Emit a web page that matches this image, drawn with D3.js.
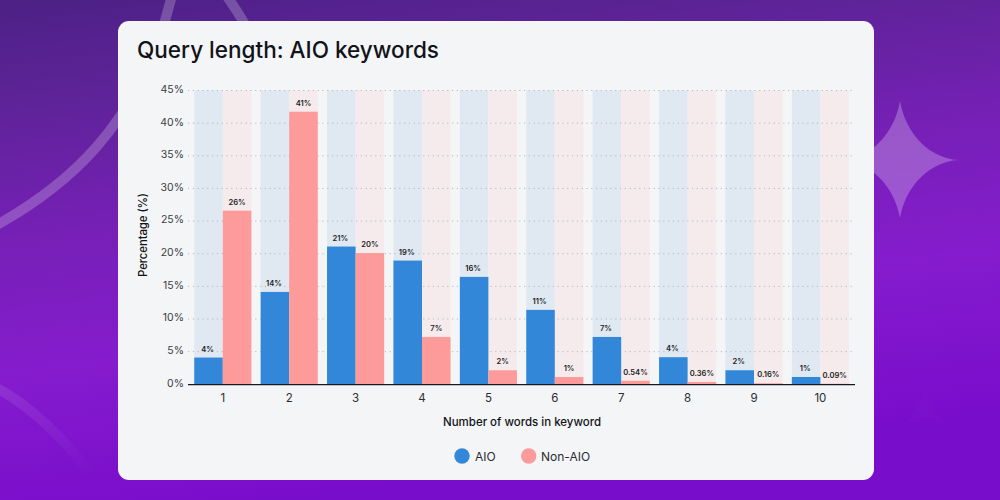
<!DOCTYPE html>
<html><head><meta charset="utf-8">
<script src="https://cdn.jsdelivr.net/npm/d3@7"></script>
<style>html,body{margin:0;padding:0;background:#7a10cc}svg{display:block}text{font-family:Inter,"Noto Sans",sans-serif}</style>
</head><body><svg id="c" width="1000" height="500"></svg>
<script>
const categories=["1","2","3","4","5","6","7","8","9","10"];
const seriesNames=["AIO","Non-AIO"];
const aioValues=[4.1,14.15,21.1,18.95,16.45,11.4,7.25,4.15,2.15,1.12];
const nonAioValues=[26.6,41.75,20.1,7.25,2.15,1.12,0.54,0.36,0.16,0.09];
const aioLabels=["4%","14%","21%","19%","16%","11%","7%","4%","2%","1%"];
const nonAioLabels=["26%","41%","20%","7%","2%","1%","0.54%","0.36%","0.16%","0.09%"];
const yTicks=[0,5,10,15,20,25,30,35,40,45];
const titleText="Query length: AIO keywords";
const xTitle="Number of words in keyword";
const yTitle="Percentage (%)";
const blue="#3387d9",pink="#fd9a9a",blueBg="#e0e8f2",pinkBg="#f6ebec",cardBg="#f4f5f7",ink="#111318";

const svg=d3.select("#c");
const defs=svg.append("defs");
const g=defs.append("linearGradient").attr("id","bg").attr("x1","0").attr("y1","0").attr("x2","0.25").attr("y2","1");
[[0,"#4c2185"],[0.2,"#5e2398"],[0.45,"#7620b6"],[0.7,"#851ccd"],[1,"#790dcc"]].forEach(s=>g.append("stop").attr("offset",s[0]).attr("stop-color",s[1]));
svg.append("rect").attr("width",1000).attr("height",500).attr("fill","url(#bg)");

// background decoration
const deco=svg.append("g").attr("fill","none").attr("stroke","#fff");
deco.append("path").attr("d","M-5,226 C60,190 140,130 172,-5").attr("stroke-width",10).attr("stroke-opacity",.22);
deco.append("path").attr("d","M226,-5 C240,15 246,25 250,35").attr("stroke-width",10).attr("stroke-opacity",.22);
const fade=defs.append("linearGradient").attr("id","fade").attr("x1","0").attr("y1","0").attr("x2","1").attr("y2","1");
fade.append("stop").attr("offset",0).attr("stop-color","#fff").attr("stop-opacity",.1);
fade.append("stop").attr("offset",1).attr("stop-color","#fff").attr("stop-opacity",0);
svg.append("path").attr("fill","none").attr("stroke","url(#fade)").attr("stroke-width",10).attr("d","M-5,387 C30,405 65,440 92,475");
svg.append("path").attr("fill","#fff").attr("fill-opacity",.25)
  .attr("d","M900,101 C906,135 930,158 958,160 C930,162 906,185 900,218 C894,185 870,162 842,160 C870,158 894,135 900,101Z");
svg.append("path").attr("fill","#fff").attr("fill-opacity",.015).attr("d","M925,386 C926,398 932,408 945,425 C932,415 918,415 905,425 C918,408 924,398 925,386Z");

// card
svg.append("rect").attr("x",118).attr("y",21).attr("width",756).attr("height",459).attr("rx",11).attr("fill",cardBg);
svg.append("text").attr("x",137).attr("y",58).attr("font-size",23).attr("font-weight",500).attr("fill",ink).attr("textLength",302).attr("lengthAdjust","spacingAndGlyphs").text(titleText);

// scales
const x=d3.scaleBand().domain(categories).range([189.6,853.6]).paddingInner(.14).paddingOuter(.07);
const x1=d3.scaleBand().domain(seriesNames).range([0,x.bandwidth()]);
const y=d3.scaleLinear().domain([0,45]).range([384.3,90.5]);

// band backgrounds
const plot=svg.append("g");
categories.forEach((c,i)=>{
  plot.append("rect").attr("x",x(c)+x1("AIO")).attr("width",x1.bandwidth()).attr("y",y(45)).attr("height",y(0)-y(45)).attr("fill",blueBg);
  plot.append("rect").attr("x",x(c)+x1("Non-AIO")).attr("width",x1.bandwidth()).attr("y",y(45)).attr("height",y(0)-y(45)).attr("fill",pinkBg);
});

// y axis with dotted grid
const yAxis=d3.axisLeft(y).tickValues(yTicks).tickFormat(d=>d+"%").tickSize(0).tickPadding(4);
const ya=svg.append("g").attr("transform","translate(188,-1.5)").call(yAxis);
ya.select(".domain").remove();
ya.selectAll("text").attr("font-size",10.5).attr("fill","#3a3d44").style("font-family","Inter,sans-serif");
svg.append("g").selectAll("line").data(yTicks.filter(d=>d>0)).join("line")
  .attr("x1",188).attr("x2",855).attr("y1",d=>y(d)).attr("y2",d=>y(d))
  .attr("stroke","#b4b8bf").attr("stroke-width",1).attr("stroke-dasharray","1.2 3.6");

// bars
const bars=svg.append("g");
bars.selectAll("rect.a").data(aioValues).join("rect").attr("class","a")
  .attr("x",(d,i)=>x(categories[i])+x1("AIO")).attr("width",x1.bandwidth()).attr("y",d=>y(d)).attr("height",d=>y(0)-y(d)).attr("fill",blue);
bars.selectAll("rect.n").data(nonAioValues).join("rect").attr("class","n")
  .attr("x",(d,i)=>x(categories[i])+x1("Non-AIO")).attr("width",x1.bandwidth()).attr("y",d=>y(d)).attr("height",d=>y(0)-y(d)).attr("fill",pink);

// value labels
const lab=svg.append("g").attr("font-size",7.6).attr("font-weight",600).attr("fill","#1c1e24").attr("text-anchor","middle");
lab.selectAll("text.a").data(aioValues).join("text").attr("class","a")
  .attr("x",(d,i)=>x(categories[i])+x1("AIO")+x1.bandwidth()/2-1).attr("y",d=>y(d)-6).text((d,i)=>aioLabels[i]);
lab.selectAll("text.n").data(nonAioValues).join("text").attr("class","n")
  .attr("x",(d,i)=>x(categories[i])+x1("Non-AIO")+x1.bandwidth()/2).attr("y",d=>y(d)-6).text((d,i)=>nonAioLabels[i]);

// x axis
const xAxis=d3.axisBottom(x).tickSize(0).tickPadding(9);
const xa=svg.append("g").attr("transform","translate(0,384.5)").call(xAxis);
xa.select(".domain").remove();
xa.selectAll("text").attr("font-size",11.5).attr("fill","#2a2c33").style("font-family","Inter,sans-serif");
svg.append("line").attr("x1",188).attr("x2",855).attr("y1",384.7).attr("y2",384.7).attr("stroke","#16181d").attr("stroke-width",1.2);

// axis titles
svg.append("text").attr("x",522).attr("y",426).attr("text-anchor","middle").attr("font-size",11.5).attr("font-weight",500).attr("fill",ink).attr("textLength",158).text(xTitle);
svg.append("text").attr("transform","translate(147,235) rotate(-90)").attr("text-anchor","middle").attr("font-size",11.5).attr("font-weight",500).attr("fill",ink).attr("textLength",84).text(yTitle);

// legend
const legend=svg.append("g");
[[462,475,blue],[528.7,541,pink]].forEach((p,i)=>{
  legend.append("circle").attr("cx",p[0]).attr("cy",456).attr("r",7.7).attr("fill",p[2]);
  legend.append("text").attr("x",p[1]).attr("y",460.5).attr("font-size",12).attr("fill","#2a2c33").text(seriesNames[i]);
});
</script></body></html>
